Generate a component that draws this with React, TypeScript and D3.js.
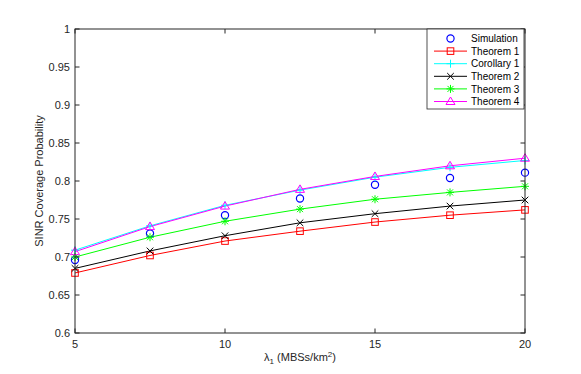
import React from "react";
import * as d3 from "d3";

const xValues = [5, 7.5, 10, 12.5, 15, 17.5, 20];
const simulation = [0.696, 0.731, 0.755, 0.777, 0.795, 0.804, 0.811];
const theorem1 = [0.679, 0.702, 0.721, 0.734, 0.746, 0.755, 0.762];
const corollary1 = [0.709, 0.741, 0.768, 0.788, 0.805, 0.818, 0.827];
const theorem2 = [0.685, 0.708, 0.728, 0.745, 0.757, 0.767, 0.775];
const theorem3 = [0.700, 0.726, 0.747, 0.763, 0.776, 0.785, 0.793];
const theorem4 = [0.707, 0.740, 0.767, 0.789, 0.806, 0.820, 0.830];

const xTicks = [5, 10, 15, 20];
const yTicks = [0.6, 0.65, 0.7, 0.75, 0.8, 0.85, 0.9, 0.95, 1];

type Marker = "circle" | "square" | "plus" | "x" | "star" | "triangle";
const series: { name: string; values: number[]; color: string; marker: Marker; line: boolean }[] = [
  { name: "Simulation", values: simulation, color: "#0000ff", marker: "circle", line: false },
  { name: "Theorem 1", values: theorem1, color: "#ff0000", marker: "square", line: true },
  { name: "Corollary 1", values: corollary1, color: "#00ffff", marker: "plus", line: true },
  { name: "Theorem 2", values: theorem2, color: "#000000", marker: "x", line: true },
  { name: "Theorem 3", values: theorem3, color: "#00ff00", marker: "star", line: true },
  { name: "Theorem 4", values: theorem4, color: "#ff00ff", marker: "triangle", line: true },
];

const W = 581, H = 374;
const L = 75, R = 525, T = 29, B = 333;
const FONT = "'Liberation Sans', Arial, Helvetica, sans-serif";
const AXC = "#262626";

function MarkerShape({ type, x, y, color }: { type: Marker; x: number; y: number; color: string }) {
  const s = 3.3;
  switch (type) {
    case "circle":
      return <circle cx={x} cy={y} r={3.6} fill="none" stroke={color} strokeWidth={1.2} />;
    case "square":
      return <rect x={x - s} y={y - s} width={2 * s} height={2 * s} fill="none" stroke={color} strokeWidth={1} />;
    case "plus":
      return <path d={`M${x - 4},${y}H${x + 4}M${x},${y - 4}V${y + 4}`} stroke={color} strokeWidth={1} />;
    case "x":
      return <path d={`M${x - s},${y - s}L${x + s},${y + s}M${x - s},${y + s}L${x + s},${y - s}`} stroke={color} strokeWidth={1} />;
    case "star":
      return (
        <path
          d={`M${x - 4},${y}H${x + 4}M${x},${y - 4}V${y + 4}M${x - 3},${y - 3}L${x + 3},${y + 3}M${x - 3},${y + 3}L${x + 3},${y - 3}`}
          stroke={color}
          strokeWidth={1}
        />
      );
    case "triangle":
      return <path d={`M${x},${y - 4.5}L${x + 4.5},${y + 3}L${x - 4.5},${y + 3}Z`} fill="none" stroke={color} strokeWidth={1} />;
  }
}

export default function App() {
  const x = d3.scaleLinear().domain([5, 20]).range([L, R]);
  const y = d3.scaleLinear().domain([0.6, 1]).range([B, T]);
  const line = d3
    .line<number>()
    .x((_, i) => x(xValues[i]))
    .y((d) => y(d));

  const legX = 427, legY = 29, legW = 97, legH = 80;
  const rowY = (i: number) => legY + 9.5 + i * 12.6;

  return (
    <svg width={W} height={H} style={{ position: "absolute", left: 0, top: 0, background: "#fff" }} fontFamily={FONT}>
      <rect x={0} y={0} width={W} height={H} fill="#fff" />
      {/* lines */}
      {series.filter((s) => s.line).map((s) => (
        <path key={s.name} d={line(s.values) || ""} fill="none" stroke={s.color} strokeWidth={1} />
      ))}
      {/* markers */}
      {series.map((s) =>
        s.values.map((v, i) => (
          <MarkerShape key={s.name + i} type={s.marker} x={x(xValues[i])} y={y(v)} color={s.color} />
        ))
      )}
      {/* axes box */}
      <rect x={L} y={T} width={R - L} height={B - T} fill="none" stroke={AXC} strokeWidth={1} />
      {xTicks.map((t) => (
        <g key={"xt" + t}>
          <line x1={x(t)} x2={x(t)} y1={B} y2={B - 4.5} stroke={AXC} />
          <line x1={x(t)} x2={x(t)} y1={T} y2={T + 4.5} stroke={AXC} />
          <text x={x(t)} y={B + 15} textAnchor="middle" fontSize={11} fill={AXC}>
            {t}
          </text>
        </g>
      ))}
      {yTicks.map((t) => (
        <g key={"yt" + t}>
          <line x1={L} x2={L + 4.5} y1={y(t)} y2={y(t)} stroke={AXC} />
          <line x1={R} x2={R - 4.5} y1={y(t)} y2={y(t)} stroke={AXC} />
          <text x={L - 5} y={y(t) + 4} textAnchor="end" fontSize={11} fill={AXC}>
            {String(t)}
          </text>
        </g>
      ))}
      {/* axis labels */}
      <text x={(L + R) / 2} y={361} textAnchor="middle" fontSize={11} fill={AXC}>
        λ<tspan fontSize={8} dy={3}>1</tspan>
        <tspan dy={-3}> (MBSs/km</tspan>
        <tspan fontSize={8} dy={-4}>2</tspan>
        <tspan dy={4}>)</tspan>
      </text>
      <text
        transform={`translate(43,${(T + B) / 2}) rotate(-90)`}
        textAnchor="middle"
        fontSize={11}
        fill={AXC}
      >
        SINR Coverage Probability
      </text>
      {/* legend */}
      <rect x={legX} y={legY} width={legW} height={legH} fill="#fff" stroke={AXC} strokeWidth={0.8} />
      {series.map((s, i) => (
        <g key={"leg" + s.name}>
          {s.line && <line x1={434} x2={467} y1={rowY(i)} y2={rowY(i)} stroke={s.color} strokeWidth={1} />}
          <MarkerShape type={s.marker} x={450.5} y={rowY(i)} color={s.color} />
          <text x={471} y={rowY(i) + 3.6} fontSize={10} fill="#000">
            {s.name}
          </text>
        </g>
      ))}
    </svg>
  );
}
